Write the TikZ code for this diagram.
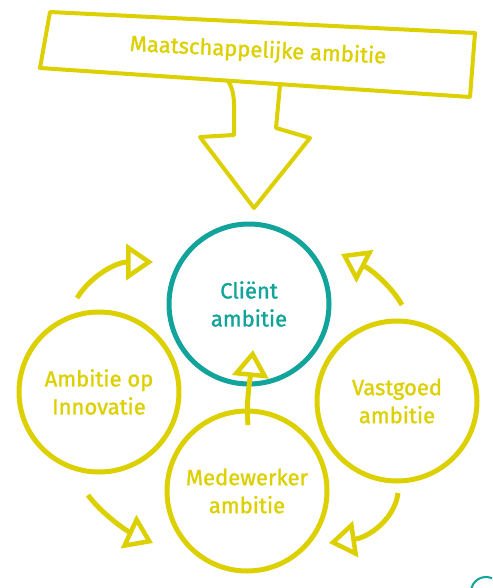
\documentclass[tikz,border=0pt]{standalone}
\usepackage{fontspec}
\setmainfont{Fira Sans}[FakeBold=1.3]
\usetikzlibrary{arrows.meta,calc}
\definecolor{ylw}{HTML}{DCD000}
\definecolor{teal2}{HTML}{12A39A}
\tikzset{
  circ/.style={circle, draw=ylw, line width=5pt, minimum size=160pt, inner sep=0pt, text=ylw, align=center, font=\fontsize{22}{28}\selectfont},
  flow/.style={draw=ylw, line width=5pt, -{Triangle[open, length=27pt, width=36pt, line width=4.5pt]}},
  banner/.style={draw=ylw, line width=4pt, line join=round}
}
\begin{document}
\begin{tikzpicture}[x=1pt,y=-1pt]
\useasboundingbox (0,0) rectangle (492,588);
% banner
\coordinate (b1) at (50,12);
\coordinate (b2) at (475,33);
\coordinate (b3) at (470,97);
\coordinate (b4) at (40,68);
\draw[banner] (b1) -- (b2) -- (b3) -- (b4) -- cycle;
\node[text=ylw, font=\fontsize{22}{26}\selectfont, rotate=-2.8] (maat) at (258,51) {Maatschappelijke ambitie};
% big down arrow
\draw[banner] (228,81) .. controls (236,92) and (234,110) .. (234,135) -- (200,137) -- (254,208) -- (310,138) -- (276,128) -- (280,85);
% circles
\node[circ, draw=teal2, text=teal2] (client) at (249,304) {Cliënt\\ambitie};
\node[circ] (innov) at (99,392) {Ambitie op\\Innovatie};
\node[circ] (vast) at (397,401) {Vastgoed\\ambitie};
\node[circ] (medew) at (247,491) {Medewerker\\ambitie};
% connectors
\coordinate (tl0) at (77,298); \coordinate (tl1) at (153,262);
\coordinate (tr0) at (402,305); \coordinate (tr1) at (341,254);
\coordinate (bl0) at (88,495); \coordinate (bl1) at (153,543);
\coordinate (br0) at (398,493); \coordinate (br1) at (329,543);
\coordinate (m0) at (248,425); \coordinate (m1) at (253,350);
\draw[flow] (tl0) .. controls (92,274) and (118,262) .. (tl1);
\draw[flow] (tr0) .. controls (392,287) and (372,270) .. (tr1);
\draw[flow] (bl0) .. controls (100,512) and (125,530) .. (bl1);
\draw[flow] (br0) .. controls (395,518) and (370,537) .. (br1);
\draw[flow] (m0) .. controls (246,400) and (250,380) .. (m1);
% partial circle at the corner
\begin{scope}
\clip (0,0) rectangle (492,588);
\draw[teal2, line width=2pt] (486,592) circle[radius=15];
\end{scope}
\end{tikzpicture}
\end{document}
